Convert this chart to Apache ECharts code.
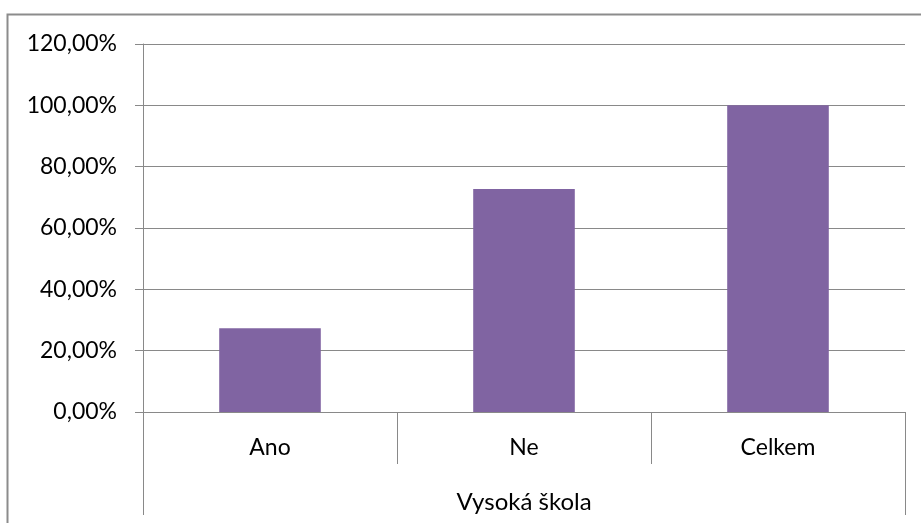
<!DOCTYPE html>
<html>
<head>
<meta charset="utf-8">
<script src="https://cdn.jsdelivr.net/npm/echarts@6/dist/echarts.min.js"></script>
<style>
  html, body { margin: 0; padding: 0; background: #fff; }
  #main { width: 921px; height: 523px; }
</style>
</head>
<body>
<div id="main"></div>
<script>
// data
var categories = ['Ano', 'Ne', 'Celkem'];
var groupLabel = ['Vysoká škola'];
var shares = [0.2727, 0.7273, 1.0];
var yMin = 0, yMax = 1.2, yStep = 0.2;

var lineColor = '#898989';
var font = 'Lato';

var chart = echarts.init(document.getElementById('main'));

var option = {
    animation: false,
    backgroundColor: '#fff',
    grid: { left: 143, right: 16, top: 44, bottom: 111 },
    graphic: [{
        // chart border (top + left visible)
        type: 'polyline',
        shape: { points: [[7.5, 530], [7.5, 14.5], [930, 14.5]] },
        style: { stroke: '#8c8c8c', lineWidth: 2, fill: null }
    }],
    xAxis: [{
        type: 'category',
        data: categories,
        position: 'bottom',
        axisLine: { show: true, lineStyle: { color: lineColor, width: 1 } },
        axisTick: { show: true, interval: 0, length: 52, lineStyle: { color: lineColor } },
        axisLabel: { margin: 24, fontFamily: font, fontSize: 23, color: '#000' }
    }, {
        type: 'category',
        data: groupLabel,
        position: 'bottom',
        axisLine: { show: false },
        axisTick: { show: true, length: 103, lineStyle: { color: lineColor } },
        axisLabel: { margin: 78, fontFamily: font, fontSize: 24, color: '#000' }
    }],
    yAxis: {
        type: 'value',
        min: yMin,
        max: yMax,
        interval: yStep,
        axisLine: { show: true, lineStyle: { color: lineColor } },
        axisTick: { show: true, length: 8, lineStyle: { color: lineColor } },
        splitLine: { show: true, lineStyle: { color: lineColor, width: 1 } },
        axisLabel: {
            margin: 26,
            fontFamily: font,
            fontSize: 23,
            color: '#000',
            formatter: function (v) {
                return (v * 100).toFixed(2).replace('.', ',') + '%';
            }
        }
    },
    series: [{
        type: 'bar',
        xAxisIndex: 0,
        data: shares,
        barWidth: '40%',
        itemStyle: { color: '#8064A2' }
    }]
};

chart.setOption(option);
</script>
</body>
</html>
